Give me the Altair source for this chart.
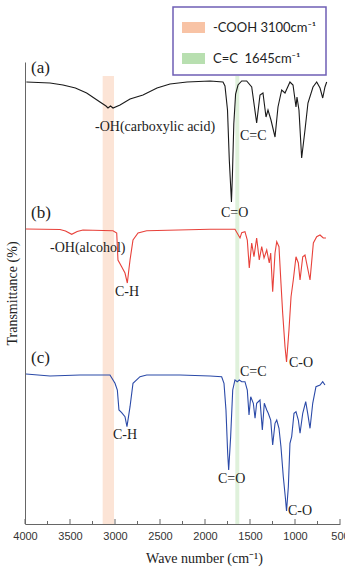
import altair as alt
import pandas as pd

# ---- spectra (wavenumber cm-1, transmittance a.u.) ----
a_wn = [3985, 3722, 3578, 3440, 3315, 3167, 3100, 3078, 3050, 3022, 2944, 2833, 2689, 2533, 2389, 2200,
        1944, 1800, 1778, 1750, 1730, 1706, 1695, 1680, 1660, 1633, 1592, 1537, 1481, 1426, 1389, 1356,
        1322, 1300, 1267, 1222, 1189, 1148, 1111, 1056, 1022, 989, 978, 956, 926, 889, 856, 800, 759,
        722, 692, 667, 648]
a_t = [442, 441, 439, 436, 431, 422, 418, 416, 418, 416, 419, 425, 429, 436, 440, 442,
       443, 442, 438, 414, 364, 322, 350, 400, 430, 439, 443, 443, 437, 401, 429, 431,
       407, 414, 404, 387, 417, 434, 431, 442, 439, 417, 427, 414, 366, 394, 421, 437, 442,
       436, 426, 437, 442]

b_wn = [3989, 3611, 3550, 3481, 3420, 3356, 3022, 2981, 2967, 2926, 2889, 2863, 2845, 2833, 2800, 2744,
        2648, 1944, 1667, 1611, 1592, 1556, 1530, 1508, 1481, 1456, 1426, 1397, 1370, 1344, 1314, 1286,
        1270, 1248, 1222, 1203, 1178, 1156, 1137, 1111, 1094, 1067, 1044, 1019, 989, 963, 944, 914,
        889, 863, 833, 796, 759, 722, 686, 656]
b_t = [295, 294.5, 293, 289.7, 292.5, 294, 293.3, 291, 264, 257.3, 251, 241, 255, 264, 284, 291,
       293.3, 294.7, 294.7, 286, 291.3, 292.3, 284, 256, 281, 267.3, 286, 264, 277.3, 266, 274, 261,
       271, 232.3, 271, 282.3, 277.3, 241, 211, 177.3, 162, 194, 227.3, 244, 267.3, 261, 244, 267.3,
       269, 257.3, 244, 281, 287.3, 289, 286, 286]

c_wn = [3989, 3722, 3389, 3056, 3000, 2974, 2956, 2926, 2889, 2867, 2833, 2800, 2722, 2648, 2278, 1944,
        1815, 1789, 1767, 1748, 1737, 1715, 1692, 1667, 1641, 1619, 1592, 1556, 1530, 1511, 1492, 1463,
        1444, 1426, 1389, 1363, 1341, 1314, 1297, 1270, 1248, 1222, 1203, 1178, 1156, 1130, 1108, 1094,
        1074, 1056, 1037, 1011, 989, 963, 944, 914, 881, 859, 833, 803, 767, 722, 692, 667]
c_t = [150, 148, 149, 149, 140.7, 134, 114, 111.3, 107.3, 97.3, 117.3, 140.7, 147.3, 149, 149, 148,
       147.3, 140.7, 114, 70.7, 54, 87.3, 134, 144, 142.3, 144, 142.3, 142.3, 134, 109, 127.3, 120.7,
       105.7, 120.7, 124, 94, 120.7, 114, 110.7, 104, 79, 100.7, 104, 95.7, 77.3, 47.3, 27.3, 13,
       37.3, 80.7, 87.3, 110.7, 112.3, 104, 90.7, 110.7, 122.3, 110.7, 95.7, 120.7, 137.3, 139, 142.3, 139]

# ---- highlighted bands ----
band_names = ["-COOH 3100cm\u207b\u00b9", "C=C\u00a0 1645cm\u207b\u00b9"]
band_lo = [3137, 1663]
band_hi = [3011, 1619]
band_top = [448, 448]

# ---- annotations ----
annot_text = ["-OH(carboxylic acid)", "C=C", "C=O", "-OH(alcohol)", "C-H", "C-O", "C=C", "C-H", "C=O", "C-O"]
annot_wn = [3222, 1611, 1822, 3722, 3000, 1067, 1611, 3022, 1856, 1078]
annot_t = [397.5, 388.5, 311, 276, 232, 161, 152, 89, 45, 13]

panel_text = ["(a)", "(b)", "(c)"]
panel_wn = [3933, 3933, 3933]
panel_t = [456, 311, 166]

major_ticks = [4000, 3500, 3000, 2500, 2000, 1500, 1000, 500]
minor_ticks = [3750, 3250, 2750, 2250, 1750, 1250, 750]

xs = alt.Scale(domain=[500, 4000], reverse=True, nice=False, zero=False)
ys = alt.Scale(domain=[0, 462], nice=False, zero=False)

x_axis = alt.Axis(values=major_ticks, format="d", ticks=False, grid=False, labelFlush=False,
                  labelFont="Liberation Sans", labelFontSize=11, labelColor="#333", labelPadding=6,
                  domainColor="#666", domainWidth=1,
                  title="Wave number (cm\u207b\u00b9)", titleFont="Liberation Serif", titleFontSize=14,
                  titleFontWeight="normal", titleColor="#222", titleX=179, titleY=34,
                  titleBaseline="middle", titleAlign="center")
y_axis = alt.Axis(ticks=False, labels=False, grid=False, domainColor="#666", domainWidth=1,
                  title="Transmittance (%)", titleFont="Liberation Serif", titleFontSize=14,
                  titleFontWeight="normal", titleColor="#222", titleX=-13, titleY=231,
                  titleBaseline="middle", titleAlign="center", titleAngle=270)

bands_df = pd.DataFrame({"name": band_names, "lo": band_lo, "hi": band_hi, "top": band_top})
bands = alt.Chart(bands_df).mark_rect(opacity=0.45).encode(
    x=alt.X("lo:Q", scale=xs, axis=x_axis),
    x2="hi:Q",
    y=alt.Y("top:Q", scale=ys, axis=y_axis),
    y2=alt.datum(0),
    color=alt.Color("name:N", sort=band_names,
                    scale=alt.Scale(domain=band_names, range=["#f8c3a5", "#b8dfb0"]),
                    legend=alt.Legend(title=None, orient="none", legendX=148, legendY=-55,
                                      strokeColor="#6f5fb5", padding=9,
                                      rowPadding=12, symbolType="M-1,-0.48H1V0.48H-1Z",
                                      symbolSize=529, symbolStrokeWidth=0, symbolOpacity=1,
                                      labelFont="Lato", labelFontSize=13, labelColor="#222",
                                      labelOffset=8, fillColor="white"))
)

def spectrum(wn, t, color):
    df = pd.DataFrame({"wn": wn, "t": t})
    return alt.Chart(df).mark_line(color=color, strokeWidth=1.1).encode(
        x=alt.X("wn:Q", scale=xs), y=alt.Y("t:Q", scale=ys), order="wn:Q")

line_a = spectrum(a_wn, a_t, "#1a1a1a")
line_b = spectrum(b_wn, b_t, "#e8413a")
line_c = spectrum(c_wn, c_t, "#2b4aa8")

annot = alt.Chart(pd.DataFrame({"txt": annot_text, "wn": annot_wn, "t": annot_t})).mark_text(
    font="Liberation Serif", fontSize=14, color="#222", align="left", baseline="middle").encode(
    x=alt.X("wn:Q", scale=xs), y=alt.Y("t:Q", scale=ys), text="txt:N")

panels = alt.Chart(pd.DataFrame({"txt": panel_text, "wn": panel_wn, "t": panel_t})).mark_text(
    font="Liberation Serif", fontSize=17, color="#222", align="left", baseline="middle").encode(
    x=alt.X("wn:Q", scale=xs), y=alt.Y("t:Q", scale=ys), text="txt:N")

major = alt.Chart(pd.DataFrame({"tk": major_ticks})).mark_rule(color="#666", strokeWidth=1).encode(
    x=alt.X("tk:Q", scale=xs), y=alt.value(462), y2=alt.value(457))
minor = alt.Chart(pd.DataFrame({"tk": minor_ticks})).mark_rule(color="#666", strokeWidth=1).encode(
    x=alt.X("tk:Q", scale=xs), y=alt.value(462), y2=alt.value(459))

chart = alt.layer(bands, line_a, line_b, line_c, annot, panels, major, minor).properties(
    width=315, height=462,
    padding={"left": 25, "top": 62, "right": 5, "bottom": 45},
    autosize=alt.AutoSizeParams(type="none"),
    background="white",
).configure_view(stroke=None).configure_legend(strokeWidth=1.5)

chart.save("out.html", embed_options={"renderer": "svg", "actions": False})
